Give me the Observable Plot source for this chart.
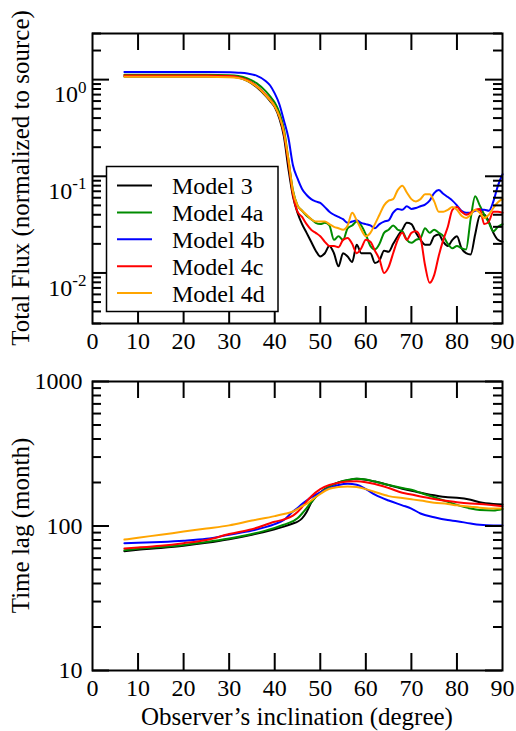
<!DOCTYPE html>
<html><head><meta charset="utf-8">
<script src="https://cdn.jsdelivr.net/npm/d3@7"></script>
<script src="https://cdn.jsdelivr.net/npm/@observablehq/plot@0.6"></script>
<style>
html,body{margin:0;padding:0;background:#fff;}
#wrap{position:relative;width:516px;height:731px;overflow:hidden;}
#wrap svg{position:absolute;left:0;}
</style></head><body><div id="wrap"></div>
<script>
const models = ["Model 3","Model 4a","Model 4b","Model 4c","Model 4d"];
const colors = ["#000000","#008b00","#0000ff","#ff0000","#ffa500"];

// Top panel: total flux vs inclination
const fluxAngle = [7,10,15,20,25,30,32,34,36,38,39,40,41,42,43,44,45,46,47,48,49,50,51,52,53,54,55,56,57,58,59,60,61,62,63,64,65,66,67,68,69,70,71,72,73,74,75,76,77,78,79,80,81,82,83,84,85,86,87,88,89,90];
const flux3  = [1.08,1.08,1.08,1.08,1.08,1.07,1.05,0.97,0.84,0.68,0.60,0.52,0.40,0.26,0.12,0.062,0.042,0.032,0.026,0.021,0.017,0.0148,0.016,0.019,0.016,0.0117,0.016,0.0148,0.013,0.0196,0.016,0.016,0.016,0.0127,0.0135,0.017,0.0166,0.020,0.024,0.028,0.033,0.032,0.026,0.022,0.0196,0.0196,0.024,0.025,0.021,0.019,0.022,0.024,0.018,0.016,0.0155,0.025,0.039,0.040,0.034,0.026,0.022,0.021];
const flux4a = [1.12,1.12,1.12,1.12,1.12,1.11,1.09,1.03,0.92,0.76,0.67,0.58,0.46,0.31,0.15,0.072,0.05,0.044,0.039,0.036,0.033,0.032,0.033,0.031,0.022,0.024,0.022,0.029,0.031,0.034,0.031,0.025,0.019,0.0175,0.02,0.026,0.028,0.031,0.028,0.027,0.022,0.0205,0.022,0.023,0.029,0.026,0.028,0.026,0.024,0.02,0.018,0.019,0.018,0.0175,0.036,0.062,0.05,0.04,0.033,0.027,0.03,0.032];
const flux4b = [1.20,1.20,1.20,1.20,1.20,1.19,1.18,1.16,1.10,0.97,0.87,0.72,0.56,0.38,0.25,0.13,0.095,0.074,0.064,0.058,0.055,0.053,0.048,0.043,0.040,0.038,0.036,0.033,0.034,0.035,0.033,0.032,0.031,0.029,0.032,0.034,0.035,0.042,0.046,0.045,0.049,0.046,0.047,0.049,0.051,0.056,0.067,0.072,0.066,0.061,0.056,0.05,0.044,0.042,0.042,0.044,0.045,0.045,0.044,0.055,0.08,0.105];
const flux4c = [1.10,1.10,1.10,1.10,1.10,1.09,1.06,0.99,0.86,0.70,0.62,0.53,0.42,0.28,0.14,0.065,0.043,0.038,0.032,0.028,0.026,0.024,0.021,0.019,0.019,0.0185,0.022,0.023,0.02,0.016,0.018,0.022,0.021,0.017,0.0138,0.01,0.0115,0.016,0.022,0.026,0.022,0.026,0.027,0.023,0.012,0.0079,0.0095,0.015,0.022,0.03,0.045,0.048,0.043,0.04,0.042,0.045,0.046,0.032,0.034,0.043,0.043,0.042];
const flux4d = [1.07,1.07,1.07,1.07,1.07,1.06,1.04,0.97,0.85,0.69,0.61,0.53,0.42,0.29,0.15,0.07,0.05,0.044,0.04,0.036,0.034,0.034,0.034,0.032,0.030,0.029,0.028,0.031,0.042,0.035,0.028,0.024,0.026,0.032,0.04,0.05,0.056,0.058,0.072,0.08,0.068,0.058,0.055,0.058,0.065,0.065,0.055,0.043,0.043,0.045,0.048,0.045,0.039,0.037,0.04,0.045,0.042,0.037,0.04,0.047,0.054,0.058];

// Bottom panel: time lag vs inclination
const lagAngle = [7,10,15,20,25,30,35,40,42,44,45,46,47,48,50,52,54,56,58,60,62,65,68,70,72,75,78,80,83,85,88,90];
const lag3  = [67,68.5,70.5,73,76.5,81,87,95,99,104,107,113,125,145,170,188,200,207,212,209,203,192,181,175,170,163,158,157,152,146,142,141];
const lag4a = [68,69.5,71.5,74,77.5,82,88,97,102,108,113,122,133,146,170,188,200,208,212,210,203,192,183,178,170,158,147,140,132,129,128,131];
const lag4b = [76,76.5,77.5,79,81.5,87,93,103,110,126,133,142,150,158,171,183,192,196,193,180,165,150,139,132,122,115,110,108,104,102,101,101];
const lag4c = [70,71,73,76,80,88,95,107,111,118,125,135,148,160,180,192,199,203,204,201,195,183,170,165,160,154,149,146,143,142,139,137];
const lag4d = [80.5,83,87,91.5,96,101,109,117,121,126,131,137,142,150,167,181,186,188,186,180,172,161,156,153,150,145,142,139,136,134,132,132];

const xTickValues = [0,10,20,30,40,50,60,70,80,90];
const fluxTickValues = [0.01,0.1,1];
const lagTickValues = [10,100,1000];

const xLabel = "Observer\u2019s inclination (degree)";
const fluxLabel = "Total Flux (normalized to source)";
const lagLabel = "Time lag (month)";

const fluxSeries = [flux3,flux4a,flux4b,flux4c,flux4d];
const lagSeries = [lag3,lag4a,lag4b,lag4c,lag4d];
const fluxRows = models.flatMap((m,i)=>fluxAngle.map((a,j)=>({model:m, incl:a, v:fluxSeries[i][j]})));
const lagRows = models.flatMap((m,i)=>lagAngle.map((a,j)=>({model:m, incl:a, v:lagSeries[i][j]})));

function minorTicks(lo, hi){
  const out=[];
  for(let e=Math.floor(Math.log10(lo)); e<=Math.ceil(Math.log10(hi)); e++){
    for(let k=2;k<=9;k++){const v=k*Math.pow(10,e); if(v>=lo*0.999 && v<=hi*1.001) out.push(v);}
  }
  return out;
}

const W=516, ML=92, MR=14;
const innerW = W-ML-MR;
const FONT = "'Liberation Serif', 'Times New Roman', serif";

function panel({rows, height, mt, mb, ydomain, major, yfmt, ypad}){
  const innerH = height-mt-mb;
  const minor = minorTicks(ydomain[0], ydomain[1]);
  const inner = xTickValues.filter(d=>d>0&&d<90);
  return Plot.plot({
    width: W, height, marginLeft: ML, marginRight: MR, marginTop: mt, marginBottom: mb,
    style: {fontFamily: FONT, fontSize: "24px", color: "#000", background: "transparent", overflow: "visible"},
    x: {domain: [0,90]},
    y: {type: "log", domain: ydomain},
    color: {domain: models, range: colors},
    marks: [
      Plot.line(rows, {x:"incl", y:"v", z:"model", stroke:"model", strokeWidth:2, curve:"monotone-x"}),
      Plot.tickX(inner, {x:d=>d, insetTop: innerH-17, strokeWidth:2}),
      Plot.tickX(inner, {x:d=>d, insetBottom: innerH-17, strokeWidth:2}),
      Plot.tickY(major, {y:d=>d, insetRight: innerW-17, strokeWidth:2}),
      Plot.tickY(major, {y:d=>d, insetLeft: innerW-17, strokeWidth:2}),
      Plot.tickY(minor, {y:d=>d, insetRight: innerW-9, strokeWidth:2}),
      Plot.tickY(minor, {y:d=>d, insetLeft: innerW-9, strokeWidth:2}),
      Plot.axisX({ticks: xTickValues, tickSize: 0, tickPadding: 8, label: null, tickFormat: d=>String(d)}),
      Plot.axisY({ticks: major, tickSize: 0, tickPadding: ypad, label: null, tickFormat: yfmt}),
      Plot.frame({strokeWidth: 2})
    ]
  });
}

const wrap = document.getElementById("wrap");

const topSvg = panel({rows: fluxRows, height: 352, mt: 33, mb: 29, ydomain: [0.003,3], major: fluxTickValues,
  yfmt: d => "10^" + Math.round(Math.log10(d)), ypad: 6});
topSvg.style.top = "0px";
wrap.appendChild(topSvg);

const botSvg = panel({rows: lagRows, height: 379, mt: 29, mb: 61, ydomain: [10,1000], major: lagTickValues,
  yfmt: d => String(d), ypad: 10});
botSvg.style.top = "352px";
wrap.appendChild(botSvg);

// superscript exponents on the flux axis labels
d3.select(topSvg).selectAll('g[aria-label="y-axis tick label"] text').each(function(){
  const s = this.textContent;
  if (!s.includes("^")) return;
  const [b, e] = s.split("^");
  const t = d3.select(this);
  t.text(b).attr("dy", "0.62em");
  t.append("tspan").attr("dy", "-0.56em").attr("font-size", "17px").text(e);
});

// axis titles
d3.select(topSvg).append("text")
  .attr("transform", "translate(29,178) rotate(-90)")
  .attr("text-anchor", "middle").attr("font-size", "25px").attr("fill", "#000")
  .text(fluxLabel);
d3.select(botSvg).append("text")
  .attr("transform", "translate(29,173.5) rotate(-90)")
  .attr("text-anchor", "middle").attr("font-size", "25px").attr("fill", "#000")
  .text(lagLabel);
d3.select(botSvg).append("text")
  .attr("x", 297).attr("y", 373)
  .attr("text-anchor", "middle").attr("font-size", "25px").attr("fill", "#000")
  .text(xLabel);

// legend inside the top panel
const lg = d3.select(topSvg).append("g").attr("text-anchor", "start");
lg.append("rect").attr("x", 106.5).attr("y", 166.5).attr("width", 171.5).attr("height", 145)
  .attr("fill", "#fff").attr("stroke", "#000").attr("stroke-width", 1.5);
models.forEach((m,i)=>{
  const cy = 185.5 + i*26.9;
  lg.append("line").attr("x1",117).attr("x2",152).attr("y1",cy).attr("y2",cy)
    .attr("stroke", colors[i]).attr("stroke-width", 2);
  lg.append("text").attr("x",172).attr("y",cy+8.5).attr("text-anchor","start")
    .attr("font-size","24px").attr("fill","#000").text(m);
});
</script>
</body></html>
